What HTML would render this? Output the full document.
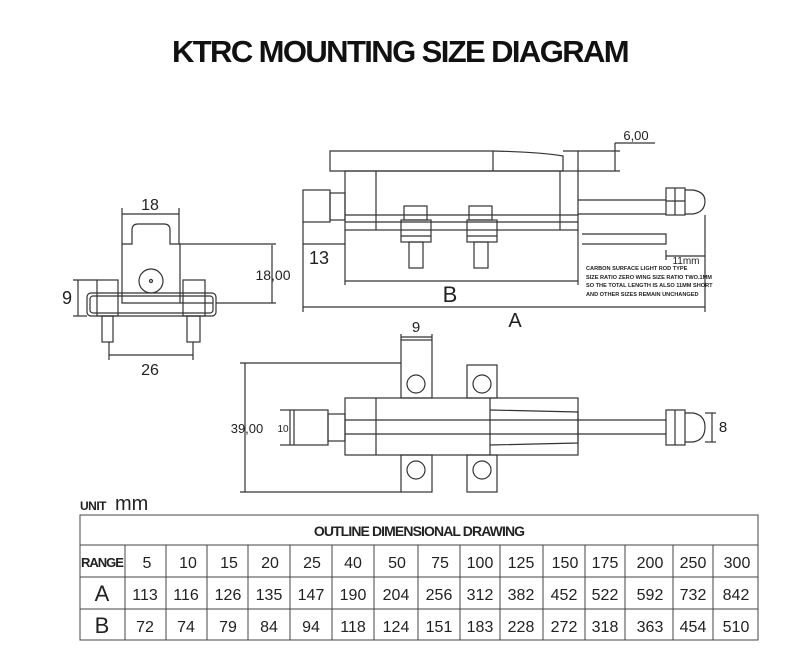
<!DOCTYPE html>
<html><head><meta charset="utf-8"><style>
html,body{margin:0;padding:0;background:#fff;}
svg{display:block}
text{font-family:"Liberation Sans",sans-serif;fill:#222}
</style></head><body>
<svg width="800" height="651" viewBox="0 0 800 651" xmlns="http://www.w3.org/2000/svg">
<text x="400" y="62" text-anchor="middle" font-size="31" font-weight="bold" letter-spacing="-1.6" fill="#111" style="fill:#111">KTRC MOUNTING SIZE DIAGRAM</text>

<g fill="none" stroke="#333" stroke-width="1.2">
<path d="M122,296 V244 H132 V230 Q132,224 138,224 H164 Q170,224 170,230 V244 H180 V296"/>
<line x1="122" y1="214" x2="179" y2="214"/><line x1="122" y1="208" x2="122" y2="244"/><line x1="179" y1="208" x2="179" y2="244"/>
<circle cx="151" cy="281" r="12"/><circle cx="151" cy="281" r="1.5"/>
<rect x="87" y="293" width="129" height="23" rx="4"/>
<rect x="90" y="296" width="123" height="17" rx="3"/>
<path d="M122,296 V303 H213 M180,296 V303"/>
<rect x="97" y="280" width="21" height="36"/><rect x="102" y="316" width="11" height="26"/>
<rect x="183" y="280" width="22" height="36"/><rect x="187" y="316" width="13" height="26"/>
<line x1="109" y1="342" x2="109" y2="360"/><line x1="193" y1="342" x2="193" y2="360"/>
<line x1="109" y1="355" x2="193" y2="355"/>
<line x1="180" y1="244" x2="276" y2="244"/><line x1="216" y1="303" x2="276" y2="303"/>
<line x1="272" y1="245" x2="272" y2="303"/>
<line x1="73" y1="280" x2="97" y2="280"/><line x1="73" y1="316" x2="87" y2="316"/>
<line x1="78" y1="280" x2="78" y2="316"/>

<path d="M330,151 H493 Q540,152 563,156 V171 H330 Z"/>
<line x1="493" y1="151" x2="493" y2="171"/>
<path d="M563,151 H578 V171"/>
<rect x="345" y="171" width="233" height="59"/>
<line x1="376" y1="171" x2="376" y2="230"/><line x1="560" y1="171" x2="560" y2="230"/>
<line x1="345" y1="215" x2="578" y2="215"/><line x1="345" y1="222" x2="578" y2="222"/>
<rect x="303" y="190" width="27" height="32"/><rect x="330" y="193" width="15" height="27"/>
<rect x="404" y="206" width="23" height="14"/><rect x="401" y="220" width="30" height="22"/><line x1="401" y1="236" x2="431" y2="236"/><rect x="409" y="242" width="14" height="26"/>
<rect x="469" y="206" width="23" height="14"/><rect x="467" y="220" width="30" height="22"/><line x1="467" y1="236" x2="497" y2="236"/><rect x="474" y="242" width="14" height="26"/>
<line x1="578" y1="200" x2="666" y2="200"/><line x1="578" y1="214" x2="666" y2="214"/>
<rect x="666" y="188" width="19" height="27"/><line x1="675" y1="188" x2="675" y2="215"/><line x1="666" y1="201" x2="685" y2="201"/>
<path d="M685,190 H693 Q705,192 705,201 Q705,212 693,214 H685"/>
<path d="M582,234 H666 V244 H582"/>
<line x1="578" y1="171" x2="620" y2="171"/><line x1="578" y1="151" x2="620" y2="151"/>
<line x1="615" y1="143" x2="615" y2="171"/><line x1="615" y1="143" x2="655" y2="143"/>
<line x1="303" y1="222" x2="303" y2="312"/><line x1="345" y1="230" x2="345" y2="285"/><line x1="578" y1="230" x2="578" y2="285"/><line x1="705" y1="215" x2="705" y2="312"/>
<line x1="666" y1="250" x2="666" y2="260"/><line x1="666" y1="256" x2="705" y2="256"/>
<line x1="303" y1="244" x2="345" y2="244"/>
<line x1="345" y1="281" x2="578" y2="281"/>
<line x1="303" y1="307" x2="705" y2="307"/>

<rect x="345" y="398" width="233" height="57"/>
<line x1="376" y1="398" x2="376" y2="455"/>
<line x1="345" y1="420" x2="578" y2="420"/><line x1="345" y1="434" x2="578" y2="434"/>
<rect x="401" y="340" width="31" height="58"/><circle cx="416" cy="384" r="9"/>
<rect x="467" y="365" width="30" height="33"/><circle cx="482" cy="384" r="9"/>
<rect x="401" y="455" width="31" height="37"/><circle cx="416" cy="470" r="9"/>
<rect x="467" y="455" width="30" height="37"/><circle cx="482" cy="470" r="9"/>
<line x1="401" y1="334" x2="401" y2="340"/><line x1="432" y1="334" x2="432" y2="340"/><line x1="401" y1="337" x2="432" y2="337"/>
<rect x="290" y="410" width="38" height="35"/><rect x="328" y="414" width="17" height="27"/>
<path d="M490,410 L578,412 V443 L490,445"/><line x1="490" y1="398" x2="490" y2="455"/>
<line x1="578" y1="420" x2="666" y2="420"/><line x1="578" y1="434" x2="666" y2="434"/>
<rect x="666" y="410" width="19" height="35"/><line x1="675" y1="410" x2="675" y2="445"/>
<path d="M685,413 H693 Q705,415 705,427 Q705,440 693,442 H685"/>
<line x1="705" y1="413" x2="716" y2="413"/><line x1="705" y1="442" x2="716" y2="442"/><line x1="712" y1="413" x2="712" y2="442"/>
<line x1="240" y1="363" x2="401" y2="363"/><line x1="240" y1="492" x2="401" y2="492"/><line x1="245" y1="363" x2="245" y2="492"/>
<line x1="280" y1="410" x2="290" y2="410"/><line x1="280" y1="445" x2="290" y2="445"/><line x1="294" y1="410" x2="294" y2="445"/>
</g>

<g font-size="16">
<text x="150" y="210" text-anchor="middle">18</text>
<text x="150" y="375" text-anchor="middle">26</text>
<text x="67" y="304" text-anchor="middle" font-size="18">9</text>
<text x="273" y="280" text-anchor="middle" font-size="14">18,00</text>
<text x="319" y="264" text-anchor="middle" font-size="18">13</text>
<text x="450" y="302" text-anchor="middle" font-size="22">B</text>
<text x="515" y="327" text-anchor="middle" font-size="20">A</text>
<text x="636" y="140" text-anchor="middle" font-size="13">6,00</text>
<text x="686" y="264" text-anchor="middle" font-size="10">11mm</text>
<text x="416" y="332" text-anchor="middle" font-size="15">9</text>
<text x="247" y="433" text-anchor="middle" font-size="13">39,00</text>
<text x="283" y="432" text-anchor="middle" font-size="10">10</text>
<text x="723" y="432" text-anchor="middle" font-size="15">8</text>
</g>
<g font-size="5.6" font-weight="bold">
<text x="586" y="270">CARBON SURFACE LIGHT ROD TYPE</text>
<text x="586" y="279">SIZE RATIO ZERO WING SIZE RATIO TWO.1MM</text>
<text x="586" y="287">SO THE TOTAL LENGTH IS ALSO 11MM SHORT</text>
<text x="586" y="296">AND OTHER SIZES REMAIN UNCHANGED</text>
</g>

<text x="80" y="510" font-size="12" font-weight="bold" letter-spacing="-0.5">UNIT</text>
<text x="115" y="510" font-size="20" fill="#555">mm</text>

<g fill="none" stroke="#444" stroke-width="1">
<rect x="80" y="515" width="678" height="125"/>
<line x1="80" y1="545" x2="758" y2="545"/><line x1="80" y1="577" x2="758" y2="577"/><line x1="80" y1="609" x2="758" y2="609"/>
<path d="M125,545V640M166,545V640M207,545V640M248,545V640M290,545V640M332,545V640M374,545V640M418,545V640M460,545V640M500,545V640M543,545V640M585,545V640M625,545V640M673,545V640M713,545V640"/>
</g>
<text x="419" y="536" text-anchor="middle" font-size="14" font-weight="bold" letter-spacing="-0.9">OUTLINE DIMENSIONAL DRAWING</text>
<text x="81" y="567" font-size="13" font-weight="bold" letter-spacing="-1">RANGE</text>
<g font-size="16" text-anchor="middle" fill="#333">
<text x="147" y="568">5</text><text x="188" y="568">10</text><text x="229" y="568">15</text><text x="270" y="568">20</text><text x="312" y="568">25</text><text x="353" y="568">40</text><text x="397" y="568">50</text><text x="440" y="568">75</text><text x="480" y="568">100</text><text x="521" y="568">125</text><text x="565" y="568">150</text><text x="605" y="568">175</text><text x="650" y="568">200</text><text x="693" y="568">250</text><text x="737" y="568">300</text>
<text x="102" y="601" font-size="22">A</text>
<text x="145" y="600">113</text><text x="186" y="600">116</text><text x="228" y="600">126</text><text x="269" y="600">135</text><text x="311" y="600">147</text><text x="353" y="600">190</text><text x="396" y="600">204</text><text x="439" y="600">256</text><text x="480" y="600">312</text><text x="521" y="600">382</text><text x="564" y="600">452</text><text x="605" y="600">522</text><text x="650" y="600">592</text><text x="693" y="600">732</text><text x="736" y="600">842</text>
<text x="102" y="633" font-size="22">B</text>
<text x="145" y="632">72</text><text x="186" y="632">74</text><text x="228" y="632">79</text><text x="269" y="632">84</text><text x="311" y="632">94</text><text x="353" y="632">118</text><text x="396" y="632">124</text><text x="439" y="632">151</text><text x="480" y="632">183</text><text x="521" y="632">228</text><text x="564" y="632">272</text><text x="605" y="632">318</text><text x="650" y="632">363</text><text x="693" y="632">454</text><text x="736" y="632">510</text>
</g>
</svg>
</body></html>
